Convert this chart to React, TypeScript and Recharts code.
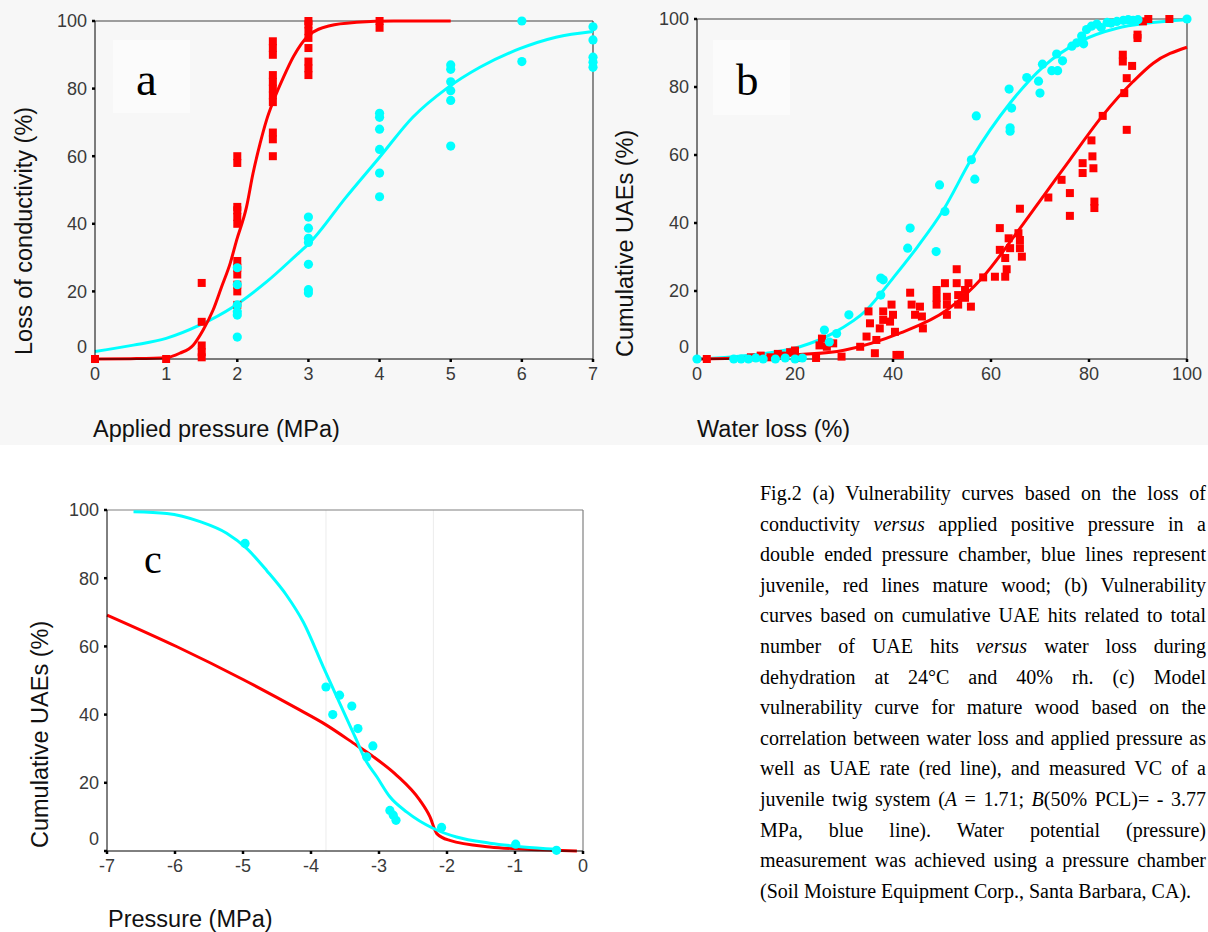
import React from 'react';
import { ComposedChart, Line, Scatter, XAxis, YAxis, ReferenceLine } from 'recharts';

// panel a: loss of conductivity vs applied pressure
const aMatureCurveX = [0, 0.5, 1, 1.19, 1.38, 1.52, 1.66, 1.78, 1.9, 1.99, 2.13, 2.22, 2.32, 2.41, 2.51, 2.65, 2.79, 3.0, 3.3, 3.68, 4.2, 5];
const aMatureCurveY = [0, 0.1, 0.4, 1.7, 4.1, 8.6, 14.5, 21.4, 28.3, 35.1, 45, 54.8, 63.7, 70.6, 76.5, 83.4, 89.5, 95.7, 98.6, 99.6, 100, 100];
const aJuvCurveX = [0, 0.54, 1, 1.47, 1.94, 2.41, 2.88, 3.0, 3.53, 4.0, 4.47, 4.94, 5.41, 5.97, 6.48, 7];
const aJuvCurveY = [2.2, 4.1, 6.1, 10, 15.4, 22.8, 31.7, 34, 47.9, 59.7, 71.6, 80, 86.3, 91.8, 95.2, 96.9];

const aMatureX = [0, 1, 1.5, 1.5, 1.5, 1.5, 1.5,
  2, 2, 2, 2, 2, 2, 2, 2, 2, 2, 2, 2,
  2.5, 2.5, 2.5, 2.5, 2.5, 2.5, 2.5, 2.5, 2.5, 2.5, 2.5,
  3, 3, 3, 3, 3, 3, 3, 3, 4, 4];
const aMatureY = [0, 0, 22.5, 11, 4, 2, 0.5,
  60, 58, 45, 44, 42, 40, 29, 27, 25, 22, 20, 16,
  94, 92, 90, 84, 82, 80, 78, 76, 67, 65, 60,
  100, 99, 97, 95, 92, 88, 86, 84, 100, 98];
const aJuvX = [2, 2, 2, 2, 2, 2, 3, 3, 3, 3, 3, 3, 3, 4, 4, 4, 4, 4, 4, 5, 5, 5, 5, 5, 5, 6, 6, 7, 7, 7, 7, 7];
const aJuvY = [27, 22, 16, 14, 13, 6.5, 42, 38.7, 35.7, 34.5, 28, 20.5, 19.5, 72.7, 71.5, 68, 62, 55, 48,
  87, 85.7, 82, 79.4, 76.5, 63, 100, 88, 98.3, 94.4, 89.3, 87.8, 86.3];

// panel b: cumulative UAEs vs water loss
const bJuvCurveX = [0, 7, 14.2, 21, 27.8, 34.6, 40, 45, 50.3, 56, 63.9, 70.7, 78.2, 85.7, 92, 100];
const bJuvCurveY = [0, 0.6, 1.7, 3.6, 7.6, 14.4, 23.8, 33, 43.9, 58.8, 75.3, 86, 93.4, 97.3, 98.8, 99.8];
const bMatureCurveX = [0, 10, 20, 30, 41.4, 51, 58.4, 65.2, 71.4, 76.1, 82.9, 89, 93.1, 100];
const bMatureCurveY = [0, 0.4, 1.2, 2.6, 7.6, 14.4, 24.2, 37, 49.3, 58.6, 71.8, 81.6, 87, 91.7];

const bJuvX = [0, 7.5, 9, 10.5, 12, 13.5, 16, 18, 20, 21.5, 26, 27, 28.5, 31, 37.5, 38, 37.5,
  43.5, 43, 48.8, 49.5, 50.6, 56, 56.7, 57, 63.9, 63.9, 64.2, 63.7, 67.3, 69.7, 70, 70.5, 72.4, 73.6,
  73.4, 74.6, 76.5, 77.5, 78.9, 78.5, 79.5, 80.5, 81.6, 82.5, 83.7, 84.5, 85.7, 87, 88, 89, 90, 100];
const bJuvY = [0, 0, 0, 0, 0.3, 0, 0, 0.3, 0, 0.3, 8.5, 5, 7.5, 13, 23.8, 23.3, 18.8,
  38.5, 32.6, 31.6, 51.2, 43.4, 58.6, 52.9, 71.5, 68, 67, 73.8, 79.4, 82.8, 81.7, 78.2, 86.7, 84.8, 84.8,
  89.7, 87.7, 92, 93, 92.7, 95, 96.9, 97.9, 98.5, 97.5, 99, 98.8, 99.3, 99.6, 99.8, 99.6, 99.8, 100];
const bMatureX = [2, 11, 13, 15, 16.5, 18, 19, 20, 21, 24.3, 25, 25.5, 26.5, 27.8, 29.5, 33.3, 34.6, 35.3, 35,
  36.3, 36.6, 37.3, 38, 38, 39.4, 39.7, 40, 40.4, 40.7, 41.4, 43.5, 43.8, 45.5, 44.5, 45.9, 46.1,
  48.9, 48.9, 48.9, 50.6, 51, 51, 51, 53, 53, 53.3, 53.3, 54.7, 54.7, 55.4, 55.9, 58.4, 60.8,
  61.8, 61.8, 62.9, 62.9, 63.2, 63.6, 63.9, 65.6, 65.9, 65.9, 66.3, 65.9,
  71.7, 74.4, 76.1, 76.1, 78.7, 78.7, 80.5, 80.7, 80.9, 81.1, 81.1, 82.8,
  86.9, 86.9, 87.2, 87.7, 87.7, 88.8, 89.9, 89.9, 91, 92.1, 96.4];
const bMatureY = [0, 0.5, 1, 0.5, 1.5, 1, 2, 2.5, 0.3, 0.3, 4, 6, 3.6, 4.6, 0.7, 3.6, 6.6, 10.5, 14,
  1.7, 5.6, 9, 11.5, 14, 11, 16, 13, 8, 1.2, 1.2, 19.5, 16, 15.4, 13, 12.5, 9,
  20.3, 18, 16, 22.3, 18.3, 16, 13, 26.4, 22.3, 18.8, 16, 20.3, 18, 22.3, 15.4, 24, 24.2,
  38.5, 32.1, 29.7, 24.2, 26.4, 35.5, 32.6, 37, 35, 32.6, 30.1, 44.2,
  47.5, 52.7, 48.8, 42.1, 57.6, 54.7, 64.3, 59.6, 56.1, 46.3, 44.4, 71.5,
  89.5, 87.5, 78.2, 82.6, 67.4, 86.2, 95.4, 94.4, 99.3, 100, 100];

// panel c: modelled VC vs pressure
const cJuvCurveX = [-6.61, -6.12, -5.63, -5.24, -4.95, -4.65, -4.36, -4.11, -3.82, -3.57, -3.33, -3.21, -3.03, -2.84, -2.59, -2.2, -1.86, -1.37, -0.88, -0.39];
const cJuvCurveY = [99.5, 99, 96.6, 93.2, 88.8, 82.2, 75, 67, 54, 43, 32.5, 27.1, 21.7, 15.9, 11.4, 6.6, 4.1, 2.3, 1.2, 0.5];
const cMatureCurveX = [-7, -5.97, -5, -4.16, -3.82, -3.33, -3.08, -2.74, -2.4, -2.25, -2.15, -1.96, -1.37, -0.63, -0.09];
const cMatureCurveY = [69.2, 59.9, 50.3, 41.3, 37.5, 31, 27.6, 22.2, 14.9, 10, 5.1, 3.1, 1.2, 0.4, 0];
const cJuvX = [-4.97, -3.78, -3.68, -3.58, -3.4, -3.31, -3.09, -3.18, -2.84, -2.79, -2.75, -2.08, -0.99, -0.39];
const cJuvY = [90.2, 48.1, 40, 45.7, 42.5, 35.9, 30.8, 27.6, 11.9, 10.5, 9, 6.9, 2, 0.2];

const pctTicks = [0, 20, 40, 60, 80, 100];
const aTicks = [0, 1, 2, 3, 4, 5, 6, 7];
const bTicks = [0, 20, 40, 60, 80, 100];
const cTicks = [-7, -6, -5, -4, -3, -2, -1, 0];

const captionLines = [
  'Fig.2 (a) Vulnerability curves based on the loss of',
  'conductivity *versus* applied positive pressure in a',
  'double ended pressure chamber, blue lines represent',
  'juvenile, red lines mature wood; (b) Vulnerability',
  'curves based on cumulative UAE hits related to total',
  'number of UAE hits *versus* water loss during',
  'dehydration at 24°C and 40% rh. (c) Model',
  'vulnerability curve for mature wood based on the',
  'correlation between water loss and applied pressure as',
  'well as UAE rate (red line), and measured VC of a',
  'juvenile twig system (*A* = 1.71; *B*(50% PCL)= - 3.77',
  'MPa, blue line). Water potential (pressure)',
  'measurement was achieved using a pressure chamber',
  '(Soil Moisture Equipment Corp., Santa Barbara, CA).',
];

const zip = (xs: number[], ys: number[]) => xs.map((x, i) => ({ x, y: ys[i] }));

const RED = '#ff0000';
const CYAN = '#00ffff';
const SANS = '"Liberation Sans", Arial, sans-serif';
const SERIF = '"Liberation Serif", "Times New Roman", serif';

const Square = (p: any) => <rect x={p.cx - 4} y={p.cy - 4} width={8} height={8} fill={RED} />;
const Dot = (p: any) => <circle cx={p.cx} cy={p.cy} r={4.6} fill={CYAN} />;

const YTick = (p: any) => (
  <text x={p.x} y={p.y + (p.payload.value === 0 ? -12 : 0)} dy="0.36em" textAnchor="end"
    fontSize={18} fill="#3a3a3a" fontFamily={SANS}>{p.payload.value}</text>
);
const XTick = (p: any) => (
  <text x={p.x} y={p.y} dy="0.72em" textAnchor="middle" fontSize={18} fill="#3a3a3a" fontFamily={SANS}>
    {p.payload.value}
  </text>
);

type PanelProps = {
  width: number; height: number; margin: any; yWidth: number;
  xDomain: number[]; xTicks: number[];
  curves: { pts: any[]; color: string }[];
  points: { pts: any[]; shape: any }[];
  frame: string; extra?: React.ReactNode;
};

const Panel = ({ width, height, margin, yWidth, xDomain, xTicks, curves, points, frame, extra }: PanelProps) => (
  <ComposedChart width={width} height={height} margin={margin}>
    <XAxis type="number" dataKey="x" domain={xDomain} ticks={xTicks} height={81}
      axisLine={{ stroke: '#000' }} tickLine={{ stroke: '#000', strokeWidth: 2.5 }} tickSize={3} tickMargin={5}
      tick={<XTick />} />
    <YAxis type="number" dataKey="y" domain={[0, 100]} ticks={pctTicks} width={yWidth}
      axisLine={{ stroke: '#000' }} tickLine={{ stroke: '#000', strokeWidth: 2.5 }} tickSize={3} tickMargin={5}
      tick={<YTick />} />
    {extra}
    <ReferenceLine y={100} stroke={frame} strokeWidth={1.2} />
    <ReferenceLine x={xDomain[1]} stroke={frame} strokeWidth={1.2} />
    {points.map((s, i) => (
      <Scatter key={'s' + i} data={s.pts} shape={s.shape} isAnimationActive={false} />
    ))}
    {curves.map((c, i) => (
      <Line key={'l' + i} data={c.pts} dataKey="y" type="monotone" stroke={c.color} strokeWidth={3}
        dot={false} activeDot={false} isAnimationActive={false} />
    ))}
  </ComposedChart>
);

const renderLine = (s: string) =>
  s.split('*').map((part, i) => (i % 2 === 1 ? <i key={i}>{part}</i> : <span key={i}>{part}</span>));

export default function App() {
  return (
    <div style={{ position: 'absolute', left: 0, top: 0, width: 1208, height: 932, overflow: 'hidden', background: '#fff' }}>
      <div style={{ position: 'absolute', left: 0, top: 0, width: 1208, height: 445, background: '#f7f7f7' }} />
      <svg width={1208} height={932} style={{ position: 'absolute', left: 0, top: 0 }}>
        <rect x={113} y={40} width={77} height={73} fill="#fbfbfb" />
        <rect x={713} y={40} width={77} height={75} fill="#fbfbfb" />
      </svg>

      <div style={{ position: 'absolute', left: 0, top: 0 }}>
        <Panel width={600} height={440} margin={{ top: 21, right: 7, bottom: 0, left: 0 }} yWidth={95}
          xDomain={[0, 7]} xTicks={aTicks} frame="#444"
          points={[{ pts: zip(aMatureX, aMatureY), shape: Square }, { pts: zip(aJuvX, aJuvY), shape: Dot }]}
          curves={[{ pts: zip(aJuvCurveX, aJuvCurveY), color: CYAN }, { pts: zip(aMatureCurveX, aMatureCurveY), color: RED }]} />
      </div>

      <div style={{ position: 'absolute', left: 600, top: 0 }}>
        <Panel width={608} height={440} margin={{ top: 19, right: 21, bottom: 0, left: 0 }} yWidth={97}
          xDomain={[0, 100]} xTicks={bTicks} frame="#444"
          points={[{ pts: zip(bMatureX, bMatureY), shape: Square }, { pts: zip(bJuvX, bJuvY), shape: Dot }]}
          curves={[{ pts: zip(bJuvCurveX, bJuvCurveY), color: CYAN }, { pts: zip(bMatureCurveX, bMatureCurveY), color: RED }]} />
      </div>

      <div style={{ position: 'absolute', left: 0, top: 480 }}>
        <Panel width={600} height={452} margin={{ top: 30, right: 17, bottom: 0, left: 0 }} yWidth={107}
          xDomain={[-7, 0]} xTicks={cTicks} frame="#808080"
          extra={[
            <ReferenceLine key="g1" x={-3.78} stroke="#ececec" />,
            <ReferenceLine key="g2" x={-2.2} stroke="#ececec" />,
          ]}
          points={[{ pts: zip(cJuvX, cJuvY), shape: Dot }]}
          curves={[{ pts: zip(cMatureCurveX, cMatureCurveY), color: RED }, { pts: zip(cJuvCurveX, cJuvCurveY), color: CYAN }]} />
      </div>

      <svg width={1208} height={932} style={{ position: 'absolute', left: 0, top: 0, pointerEvents: 'none' }}>
        <g fontFamily={SANS} fontSize={23.5} fill="#111">
          <text x={93} y={437}>Applied pressure (MPa)</text>
          <text x={697} y={437}>Water loss (%)</text>
          <text x={108} y={927}>Pressure (MPa)</text>
          <text transform="translate(32,355) rotate(-90)">Loss of conductivity (%)</text>
          <text transform="translate(633,357) rotate(-90)">Cumulative UAEs (%)</text>
          <text transform="translate(48,848) rotate(-90)">Cumulative UAEs (%)</text>
        </g>
        <g fontFamily={SERIF} fill="#000">
          <text x={136} y={95} fontSize={47}>a</text>
          <text x={736} y={95} fontSize={45}>b</text>
          <text x={144} y={573} fontSize={40}>c</text>
        </g>
      </svg>

      <div style={{ position: 'absolute', left: 760, top: 478, width: 446, fontFamily: SERIF, fontSize: 20, lineHeight: '30.6px', color: '#000' }}>
        {captionLines.map((l, i) => (
          <div key={i} style={{
            whiteSpace: 'nowrap', textAlign: i === captionLines.length - 1 ? 'left' : 'justify',
            textAlignLast: i === captionLines.length - 1 ? 'left' : 'justify',
          }}>{renderLine(l)}</div>
        ))}
      </div>
    </div>
  );
}
